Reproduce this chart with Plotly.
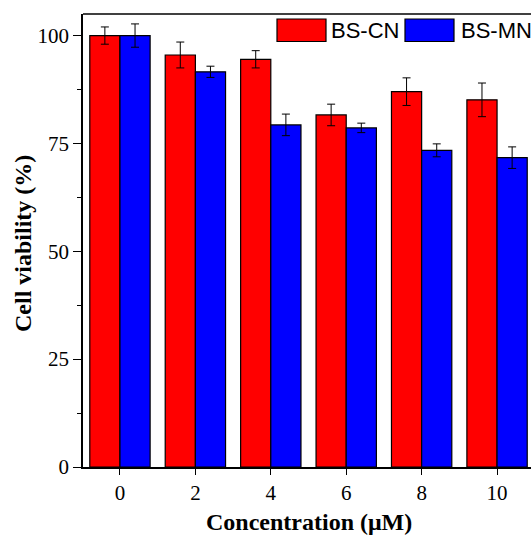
import plotly.graph_objects as go

concentrations = [0, 2, 4, 6, 8, 10]
tick_labels = ["0", "2", "4", "6", "8", "10"]
bs_cn = [100.0, 95.5, 94.5, 81.6, 87.0, 85.1]
bs_cn_err = [2.0, 3.0, 2.0, 2.5, 3.2, 3.9]
bs_mn = [100.0, 91.6, 79.3, 78.6, 73.4, 71.7]
bs_mn_err = [2.7, 1.3, 2.5, 1.1, 1.5, 2.5]
series_names = ["BS-CN", "BS-MN"]
colors = ["#ff0000", "#0000ff"]

W, H = 531, 535
L, R, T, B = 83, 0, 14, 68

fig = go.Figure()
for name, vals, errs, col in zip(series_names, [bs_cn, bs_mn], [bs_cn_err, bs_mn_err], colors):
    fig.add_trace(go.Bar(
        x=concentrations, y=vals, name=name,
        marker=dict(color=col, line=dict(color="black", width=1.2)),
        error_y=dict(type="data", array=errs, color="black", thickness=1, width=4),
        showlegend=False,
    ))

fig.update_layout(
    width=W, height=H,
    margin=dict(l=L, r=R, t=T, b=B),
    paper_bgcolor="white", plot_bgcolor="white",
    barmode="group", bargap=0.2, bargroupgap=0,
    font=dict(family="Liberation Serif, Times New Roman, serif", color="black", size=20),
)

fig.update_xaxes(
    range=[-0.98, 10.9], tickvals=concentrations, ticktext=tick_labels,
    showline=True, linecolor="black", linewidth=1.5, mirror=False,
    ticks="outside", ticklen=6, tickwidth=1.2, tickcolor="black",
    showgrid=False, zeroline=False,
    tickfont=dict(size=21, family="Liberation Serif"),
)
fig.update_yaxes(
    range=[0, 105], tickvals=[0, 25, 50, 75, 100],
    showline=True, linecolor="black", linewidth=1.5, mirror=False,
    ticks="outside", ticklen=8, tickwidth=1.2, tickcolor="black",
    minor=dict(tickvals=[12.5, 37.5, 62.5, 87.5], ticks="outside", ticklen=4, tickcolor="black", tickwidth=1.2),
    showgrid=False, zeroline=False,
    tickfont=dict(size=21, family="Liberation Serif"),
)

pw = W - L - R
ph = H - T - B
def px(x):
    return (x - L) / pw
def py(y):
    return (H - B - y) / ph

shapes = [
    dict(type="line", xref="paper", yref="paper", x0=0, x1=1, y0=1, y1=1,
         line=dict(color="black", width=1.5)),
    dict(type="rect", xref="paper", yref="paper", x0=px(277), x1=px(326), y0=py(41.5), y1=py(19),
         fillcolor=colors[0], line=dict(color="black", width=1.2)),
    dict(type="rect", xref="paper", yref="paper", x0=px(405), x1=px(454), y0=py(41.5), y1=py(19),
         fillcolor=colors[1], line=dict(color="black", width=1.2)),
]
fig.update_layout(shapes=shapes)

annotations = [
    dict(text=series_names[0], xref="paper", yref="paper", x=px(329), y=py(30.5),
         xanchor="left", yanchor="middle", showarrow=False,
         font=dict(family="Liberation Sans, Arial", size=22, color="black")),
    dict(text=series_names[1], xref="paper", yref="paper", x=px(459), y=py(30.5),
         xanchor="left", yanchor="middle", showarrow=False,
         font=dict(family="Liberation Sans, Arial", size=22, color="black")),
    dict(text="<b>Concentration (μM)</b>", xref="paper", yref="paper", x=px(309), y=py(522),
         xanchor="center", yanchor="middle", showarrow=False,
         font=dict(family="Liberation Serif", size=24, color="black")),
    dict(text="<b>Cell viability (%)</b>", xref="paper", yref="paper", x=px(23), y=py(244),
         xanchor="center", yanchor="middle", showarrow=False, textangle=-90,
         font=dict(family="Liberation Serif", size=24, color="black")),
]
fig.update_layout(annotations=annotations)

fig.write_html(
    "out.html",
    config={"displayModeBar": False},
    post_script="document.body.style.margin='0';document.body.style.overflow='hidden';",
)
